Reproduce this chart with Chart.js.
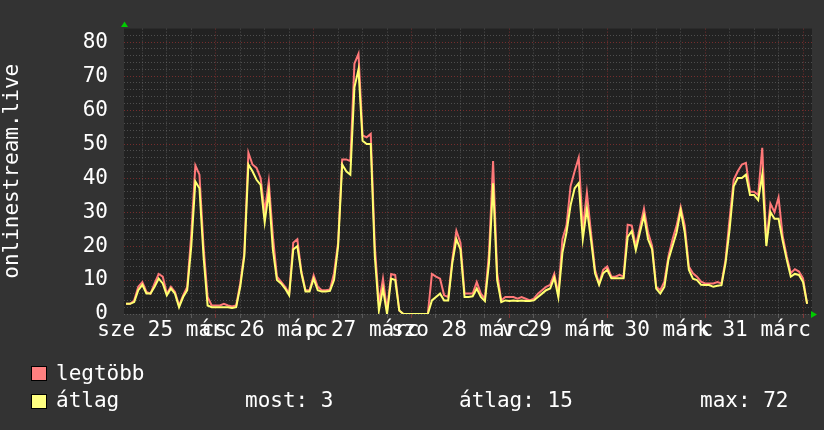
<!DOCTYPE html>
<html>
<head>
<meta charset="utf-8">
<script src="https://cdn.jsdelivr.net/npm/chart.js@4"></script>
<style>
  body { margin: 0; background: #333333; }
  #wrap { position: relative; width: 824px; height: 430px; }
  #myChart { position: absolute; left: 0; top: 0; }
  .lg { position: absolute; font: 21px "DejaVu Sans Mono", monospace; line-height: 21px; color: #ffffff; white-space: pre; }
  .sw { position: absolute; width: 14px; height: 13px; border: 1px solid #000; }
</style>
</head>
<body>
<div id="wrap">
  <canvas id="myChart" width="824" height="430"></canvas>
  <div class="sw" style="left:31px;top:366px;background:#ff8080"></div>
  <div class="lg" style="left:56px;top:363px">legtöbb</div>
  <div class="sw" style="left:31px;top:394px;background:#ffff80"></div>
  <div class="lg" style="left:56px;top:390px">átlag</div>
  <div class="lg" style="left:245px;top:390px">most: 3</div>
  <div class="lg" style="left:459px;top:390px">átlag: 15</div>
  <div class="lg" style="left:700px;top:390px">max: 72</div>
</div>
<script>
// hourly samples, first one at hour 2 after 25 march 00:00
var firstHour = 2;
var xLabels = ['sze 25 márc', 'cs 26 márc', 'p 27 márc', 'szo 28 márc', 'v 29 márc', 'h 30 márc', 'k 31 márc'];
var yTitle = 'onlinestream.live';

var avgValues = [
  3, 3, 3.5, 7, 8.6, 6, 6, 8, 10.4, 9, 5.5, 7.5, 6, 2, 5, 7, 20, 39, 37, 17, 2.5, 2, 2,
  2, 2, 2, 1.8, 2, 8, 17, 44, 42, 39.5, 38, 27, 36, 19, 10, 9, 7.5, 5.5, 19, 20, 12, 6.6, 6.6, 10.4,
  7, 6.6, 6.6, 6.8, 10, 20, 44, 42, 41, 66.7, 72, 51, 50, 50, 17, 1, 7.5, 0, 10.4, 10, 1, 0, 0, 0,
  0, 0, 0, 0, 4, 5, 6, 4, 4, 15, 22, 19, 5, 5, 5.2, 7.5, 5, 3.8, 15, 38.5, 10, 3.5, 4, 3.8,
  4, 3.8, 4, 3.8, 3.8, 4, 5, 6, 7, 7.5, 10.7, 5, 18, 24, 32, 37, 38.5, 22, 31, 22, 12, 8.6, 12, 13,
  10.5, 10.5, 10.5, 10.5, 22.7, 24.4, 18.8, 24, 29, 22, 19, 7.5, 6, 8, 16, 20, 24, 30.5, 24, 13, 10.4, 10, 8.6, 8.5,
  8.5, 8, 8.3, 8.5, 15, 25, 37.6, 40, 40, 41, 35, 35, 33.5, 41, 20, 30, 28, 28, 21.6, 16, 11, 11.8, 11.5, 9.4, 3
];
var maxValues = [
  3, 3, 4, 8, 9.4, 6.5, 6, 9, 11.8, 11, 6, 8, 6.5, 2.5, 5.5, 8, 23.5, 43.7, 41, 20, 5, 2.5, 2.5,
  2.5, 3, 2.5, 2.2, 2.5, 9, 18, 47.5, 44, 43, 40, 30, 39, 23, 11, 9.5, 8, 6, 21, 22, 12.5, 7, 7, 11.4,
  8, 7, 7, 7.2, 12, 21, 45.5, 45.5, 45, 73.7, 76.6, 52.6, 52, 53, 20, 3, 10.4, 1, 11.8, 11.5, 1, 0, 0, 0,
  0, 0, 0, 0, 11.8, 11, 10.4, 5.5, 5, 16, 24.5, 21, 6, 6, 6, 9.4, 6, 4.5, 18, 45, 12, 4, 5, 5,
  5, 4.5, 5, 4.5, 4, 4.5, 6, 7, 8, 8.6, 11.8, 5.8, 22, 26, 37.6, 42, 46, 25, 35.7, 24, 13, 9, 13, 14,
  11, 11, 11.5, 11, 26.3, 26, 20, 25.5, 31, 24, 20, 8, 7, 9.5, 17, 22, 26, 31.5, 26, 14, 12, 11, 9.5, 9,
  9, 9, 9.4, 9, 16, 28, 39.5, 42, 44, 44.5, 36, 36, 35, 48.9, 21, 32.5, 30, 34.3, 23, 17, 12, 13.2, 12.5, 10.5, 3
];

function toPoints(arr) {
  return arr.map(function (v, i) { return { x: firstHour + i, y: v }; });
}

var xTicks = [];
for (var h = 6; h <= 168; h += 6) xTicks.push(h);

var minorGrid = 'rgba(140,140,140,0.42)';
var majorGrid = 'rgba(220,60,60,0.45)';

var bgPlugin = {
  id: 'plotBg',
  beforeDraw: function (chart) {
    var a = chart.chartArea, c = chart.ctx;
    c.save();
    c.fillStyle = '#222222';
    c.fillRect(a.left, a.top, a.right - a.left, a.bottom - a.top);
    c.restore();
  },
  afterDraw: function (chart) {
    var a = chart.chartArea, c = chart.ctx;
    c.save();
    c.fillStyle = '#00cc00';
    c.beginPath();
    c.moveTo(a.left + 0.5, a.top - 7);
    c.lineTo(a.left - 3, a.top - 1.5);
    c.lineTo(a.left + 4, a.top - 1.5);
    c.closePath();
    c.fill();
    c.beginPath();
    c.moveTo(a.right + 5, a.bottom + 0.5);
    c.lineTo(a.right - 1, a.bottom - 3);
    c.lineTo(a.right - 1, a.bottom + 4);
    c.closePath();
    c.fill();
    c.restore();
  }
};

var data = {
  datasets: [
    {
      label: 'átlag',
      data: toPoints(avgValues),
      borderColor: '#ffff70',
      borderWidth: 2,
      pointRadius: 0,
      tension: 0,
      fill: false
    },
    {
      label: 'legtöbb',
      data: toPoints(maxValues),
      borderColor: '#ff7878',
      borderWidth: 2,
      pointRadius: 0,
      tension: 0,
      fill: false
    }
  ]
};

var config = {
  type: 'line',
  data: data,
  plugins: [bgPlugin],
  options: {
    responsive: false,
    animation: false,
    layout: { padding: { top: 15, right: 12, left: 0, bottom: 0 } },
    plugins: {
      legend: { display: false },
      tooltip: { enabled: false }
    },
    scales: {
      x: {
        type: 'linear',
        min: 1.5,
        max: 170.2,
        afterBuildTicks: function (scale) {
          scale.ticks = xTicks.map(function (v) { return { value: v }; });
        },
        afterFit: function (scale) { scale.height = 116; },
        grid: {
          color: function (ctx) { return ctx.tick && ctx.tick.value % 24 === 0 ? majorGrid : minorGrid; },
          tickColor: function (ctx) { return ctx.tick && ctx.tick.value % 24 === 0 ? majorGrid : minorGrid; },
          drawTicks: true,
          tickLength: 4
        },
        border: { display: false, dash: [1, 2] },
        ticks: {
          autoSkip: false,
          maxRotation: 0,
          minRotation: 0,
          padding: 0,
          color: '#ffffff',
          font: { family: 'DejaVu Sans Mono', size: 21 },
          callback: function (v) {
            return (v - 12) % 24 === 0 ? xLabels[(v - 12) / 24] : '';
          }
        }
      },
      y: {
        min: 0,
        max: 84,
        afterFit: function (scale) { scale.width = 124; },
        grid: {
          color: function (ctx) {
            if (!ctx.tick) return minorGrid;
            if (ctx.tick.value >= 84) return 'rgba(0,0,0,0)';
            return ctx.tick.value % 10 === 0 && ctx.tick.value > 0 ? majorGrid : minorGrid;
          },
          drawTicks: false
        },
        border: { display: false, dash: [1, 2] },
        ticks: {
          stepSize: 2,
          autoSkip: false,
          padding: 16,
          color: '#ffffff',
          font: { family: 'DejaVu Sans Mono', size: 21 },
          callback: function (v) { return v % 10 === 0 ? String(v) : ''; }
        },
        title: {
          display: true,
          text: yTitle,
          color: '#ffffff',
          padding: 0,
          font: { family: 'DejaVu Sans Mono', size: 21 }
        }
      }
    }
  }
};

var myChart = new Chart(document.getElementById('myChart'), config);
</script>
</body>
</html>
